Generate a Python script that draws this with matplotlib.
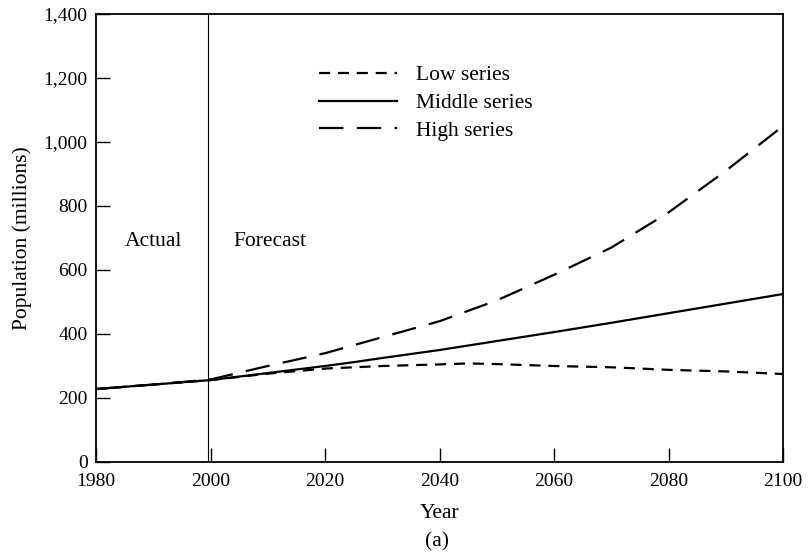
import matplotlib
matplotlib.use("Agg")
import matplotlib.pyplot as plt
from matplotlib.ticker import FuncFormatter

plt.rcParams['font.family'] = ['Liberation Serif', 'DejaVu Serif']

# Population projections (millions)
low_years = [1980, 1990, 2000, 2010, 2020, 2030, 2040, 2045, 2050, 2060, 2070, 2080, 2090, 2100]
low_pop = [228, 242, 256, 276, 292, 300, 305, 308, 306, 300, 296, 288, 283, 275]

mid_years = [1980, 1990, 2000, 2010, 2020, 2025, 2030, 2040, 2050, 2060, 2070, 2080, 2090, 2100]
mid_pop = [228, 242, 256, 278, 300, 312, 325, 350, 378, 406, 435, 465, 495, 525]

high_years = [1980, 1990, 2000, 2010, 2020, 2030, 2040, 2050, 2060, 2070, 2080, 2090, 2100]
high_pop = [228, 242, 258, 300, 340, 390, 440, 505, 585, 670, 780, 910, 1050]

x_ticks = [1980, 2000, 2020, 2040, 2060, 2080, 2100]
y_ticks = [0, 200, 400, 600, 800, 1000, 1200, 1400]
split_year = 1999.5

TXT = 15.5

fig = plt.figure(figsize=(8.09, 5.6), dpi=100)
ax = fig.add_axes([0.1187, 0.175, 0.8493, 0.800])

ax.plot(low_years, low_pop, color='black', lw=1.6, dashes=(5, 3.5), label='Low series')
ax.plot(mid_years, mid_pop, color='black', lw=1.6, label='Middle series')
ax.plot(high_years, high_pop, color='black', lw=1.6, dashes=(11, 6), label='High series')

ax.axvline(split_year, color='black', lw=0.8)

ax.set_xlim(1980, 2100)
ax.set_ylim(0, 1400)
ax.set_xticks(x_ticks)
ax.set_yticks(y_ticks)
ax.yaxis.set_major_formatter(FuncFormatter(lambda v, p: f"{int(v):,}"))
ax.tick_params(direction='in', length=10, width=1, labelsize=14)
ax.tick_params(axis='x', pad=8)
ax.tick_params(axis='y', pad=6)

for s in ax.spines.values():
    s.set_linewidth(1.3)

ax.text(1985.0, 690, 'Actual', fontsize=TXT, ha='left', va='center')
ax.text(2004.0, 690, 'Forecast', fontsize=TXT, ha='left', va='center')

ax.set_xlabel('Year', fontsize=TXT, labelpad=10)
ax.set_ylabel('Population (millions)', fontsize=TXT, labelpad=8)
fig.text(0.54, 0.032, '(a)', fontsize=TXT, ha='center', va='center')

leg = ax.legend(loc='upper left', bbox_to_anchor=(0.312, 0.905), frameon=False,
                fontsize=TXT, handlelength=3.6, handletextpad=0.9,
                labelspacing=0.36, borderaxespad=0)

fig.savefig('out.png', dpi=100)
